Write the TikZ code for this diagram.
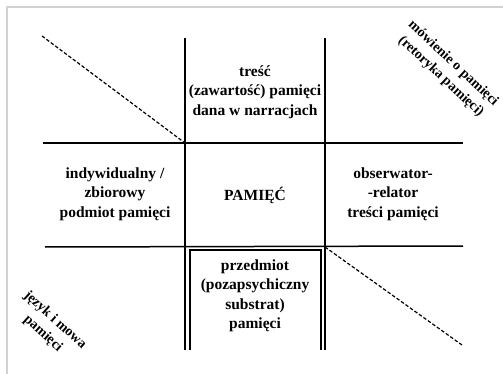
\documentclass[tikz,border=0pt]{standalone}
\usepackage{fontspec}
\setmainfont{Liberation Serif}
\begin{document}
\begin{tikzpicture}[x=1pt,y=-1pt,
  grid/.style={line width=1.5pt,black},
  inner/.style={line width=1.3pt,black},
  dashline/.style={line width=1.2pt,dash pattern=on 3.5pt off 2pt},
  lbl/.style={font=\fontsize{15.5}{19.5}\selectfont\bfseries,align=center,inner sep=0pt},
  rlbl/.style={font=\fontsize{14}{18}\selectfont\bfseries,align=center,inner sep=0pt}]
\useasboundingbox (0,0) rectangle (503,374);
\fill[white] (0,0) rectangle (503,374);
% scan border
\draw[gray!35,line width=2pt] (7,374) -- (7,7) -- (503,7);
% grid coordinates
\coordinate (v1t) at (185,38);  \coordinate (v1b) at (185,350);
\coordinate (v2t) at (325,38);  \coordinate (v2b) at (325,350);
\coordinate (h1l) at (43,143);  \coordinate (h1r) at (463,143);
\coordinate (h2l) at (45,247);  \coordinate (h2r) at (463,246);
\coordinate (b1) at (190,350); \coordinate (b2) at (190,250);
\coordinate (b3) at (321,250); \coordinate (b4) at (321,350);
\coordinate (d1) at (42,36);   \coordinate (d2) at (185,143);
\coordinate (d3) at (325,247); \coordinate (d4) at (462,345);
\draw[grid] (v1t) -- (v1b);
\draw[grid] (v2t) -- (v2b);
\draw[grid] (h1l) -- (h1r);
\draw[grid] (h2l) -- (h2r);
\draw[inner] (b1) -- (b2) -- (b3) -- (b4);
\draw[dashline] (d1) -- (d2);
\draw[dashline] (d3) -- (d4);
% labels
\node[lbl] (top) at (255,92) {treść\\(zawartość) pamięci\\dana w narracjach};
\node[lbl] (left) at (115,194) {indywidualny /\\zbiorowy\\podmiot pamięci};
\node[lbl] (mid) at (255,195) {PAMIĘĆ};
\node[lbl] (right) at (393,194) {obserwator-\\-relator\\treści pamięci};
\node[lbl] (bottom) at (255,296) {przedmiot\\(pozapsychiczny\\substrat)\\pamięci};
\node[rlbl,rotate=-43] (tr) at (447,70) {mówienie o pamięci\\(retoryka pamięci)};
\node[rlbl,rotate=-42] (bl) at (49,327) {język i mowa\\pamięci};
\end{tikzpicture}
\end{document}
